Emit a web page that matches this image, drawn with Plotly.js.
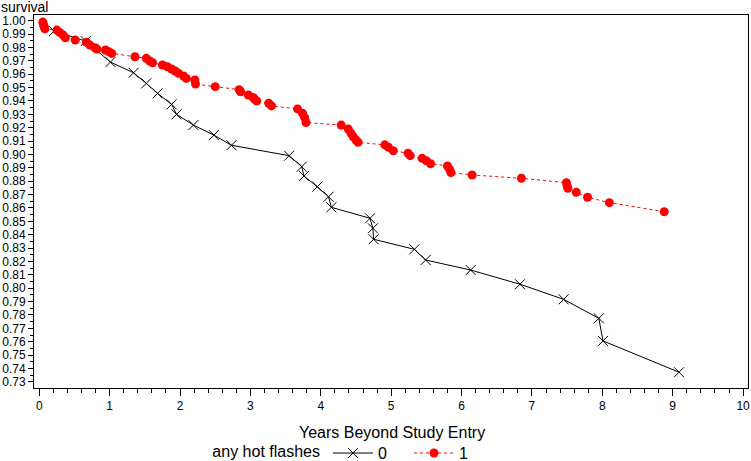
<!DOCTYPE html>
<html>
<head>
<meta charset="utf-8">
<script src="https://cdn.plot.ly/plotly-3.0.1.min.js"></script>
<style>html,body{margin:0;padding:0;background:#fff;}#chart{width:751px;height:461px;}</style>
</head>
<body>
<div id="chart"></div>
<script>
var x0 = [0.21,0.66,1.01,1.34,1.52,1.68,1.88,1.95,2.19,2.48,2.73,3.55,3.73,3.76,3.95,4.11,4.15,4.70,4.74,4.75,5.33,5.49,6.13,6.83,7.45,7.95,8.01,9.09];
var y0 = [0.9923,0.9848,0.9691,0.9611,0.9532,0.9457,0.9375,0.9300,0.9220,0.9145,0.9069,0.8991,0.8909,0.8839,0.8759,0.8684,0.8605,0.8523,0.8448,0.8366,0.8291,0.8211,0.8136,0.8030,0.7917,0.7775,0.7606,0.7372];

var x1 = [0.05,0.06,0.07,0.08,0.25,0.29,0.34,0.37,0.51,0.67,0.72,0.79,0.82,0.94,0.99,1.03,1.36,1.52,1.57,1.61,1.75,1.82,1.88,1.93,1.98,2.05,2.09,2.21,2.22,2.50,2.84,2.86,2.97,3.04,3.06,3.09,3.26,3.30,3.67,3.74,3.77,3.79,4.29,4.39,4.43,4.46,4.50,4.53,4.91,4.96,5.03,5.24,5.27,5.44,5.50,5.56,5.80,5.83,5.85,6.15,6.85,7.49,7.50,7.51,7.63,7.79,8.10,8.88];
var y1 = [0.9990,0.9970,0.9955,0.9940,0.9930,0.9913,0.9893,0.9873,0.9856,0.9839,0.9818,0.9798,0.9788,0.9781,0.9768,0.9756,0.9731,0.9719,0.9699,0.9686,0.9669,0.9656,0.9639,0.9624,0.9607,0.9587,0.9569,0.9557,0.9527,0.9507,0.9485,0.9469,0.9445,0.9427,0.9412,0.9400,0.9383,0.9363,0.9341,0.9308,0.9276,0.9239,0.9220,0.9190,0.9158,0.9133,0.9108,0.9091,0.9072,0.9054,0.9028,0.9009,0.8991,0.8971,0.8953,0.8931,0.8914,0.8889,0.8864,0.8847,0.8822,0.8789,0.8764,0.8747,0.8717,0.8680,0.8640,0.8572];

var seriesNames = ['0', '1'];
var xTitle = 'Years Beyond Study Entry';
var yTitle = 'survival';
var legendTitle = 'any hot flashes';

var font = 'Liberation Sans, Arial, Helvetica, sans-serif';

var traces = [
  {
    x: x0, y: y0, name: seriesNames[0], type: 'scatter', mode: 'lines+markers',
    line: {color: '#000000', width: 1},
    marker: {symbol: 'x-thin-open', size: 10, color: '#000000', line: {color: '#000000', width: 1}}
  },
  {
    x: x1, y: y1, name: seriesNames[1], type: 'scatter', mode: 'lines+markers',
    line: {color: '#ff0000', width: 1, dash: 'dot'},
    marker: {symbol: 'circle', size: 9, color: '#ff0000'}
  }
];

var layout = {
  width: 751, height: 461,
  margin: {l: 34, r: 3, t: 15, b: 73, pad: 0, autoexpand: false},
  paper_bgcolor: '#ffffff', plot_bgcolor: '#ffffff',
  font: {family: font, size: 12, color: '#000000'},
  showlegend: true,
  xaxis: {
    range: [-0.075, 10.07], dtick: 1, tick0: 0,
    ticks: 'outside', ticklen: 7, tickwidth: 1, tickcolor: '#000',
    showgrid: false, zeroline: false, automargin: false,
    showline: true, linecolor: '#000', linewidth: 1, mirror: true,
    tickfont: {family: font, size: 12},
    minor: {dtick: 0.2, ticklen: 4, tickcolor: '#000', ticks: 'outside', showgrid: false}
  },
  yaxis: {
    range: [0.7254, 1.0043], dtick: 0.01, tick0: 0.73, tickformat: '.2f',
    ticks: 'outside', ticklen: 5, tickwidth: 1, tickcolor: '#000',
    showgrid: false, zeroline: false, automargin: false,
    showline: true, linecolor: '#000', linewidth: 1, mirror: true,
    tickfont: {family: font, size: 12},
    minor: {dtick: 0.005, ticklen: 3, tickcolor: '#000', ticks: 'outside', showgrid: false}
  },
  legend: {
    orientation: 'h', xref: 'paper', yref: 'paper',
    x: 0.247, xanchor: 'left', y: -0.129, yanchor: 'top',
    font: {family: font, size: 16},
    title: {text: legendTitle, side: 'left', font: {family: font, size: 16}},
    itemwidth: 40, entrywidth: 26, bgcolor: 'rgba(0,0,0,0)'
  },
  annotations: [
    {
      text: yTitle, xref: 'paper', yref: 'paper', x: 0, y: 1, xshift: -34, yshift: 8,
      xanchor: 'left', yanchor: 'middle', showarrow: false, borderpad: 0,
      font: {family: font, size: 14, color: '#000'}
    },
    {
      text: xTitle, xref: 'paper', yref: 'paper', x: 0.502, y: 0, yshift: -44,
      xanchor: 'center', yanchor: 'middle', showarrow: false, borderpad: 0,
      font: {family: font, size: 16, color: '#000'}
    }
  ]
};

Plotly.newPlot('chart', traces, layout, {displayModeBar: false, staticPlot: true});
</script>
</body>
</html>
